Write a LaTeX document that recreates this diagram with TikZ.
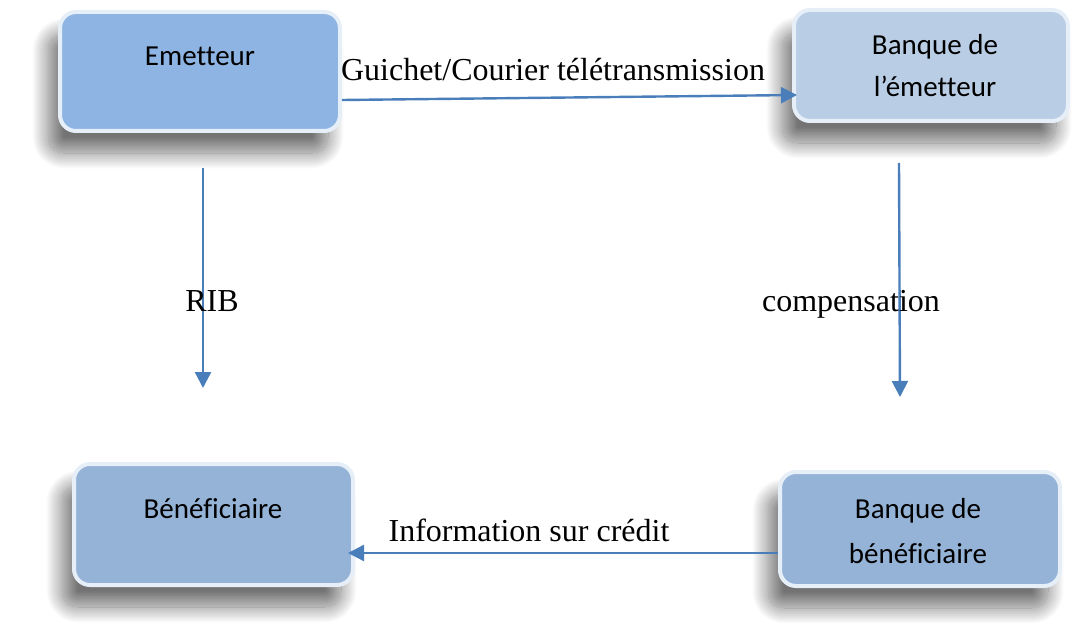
\documentclass[tikz,border=0pt]{standalone}
\usepackage{fontspec}
\setmainfont{Liberation Serif}
\newfontfamily\boxfont[Ligatures=NoCommon]{Carlito}
\usetikzlibrary{arrows.meta,shadows.blur}
\definecolor{fillA}{HTML}{8EB4E3}
\definecolor{fillB}{HTML}{B9CDE5}
\definecolor{fillC}{HTML}{95B3D7}
\definecolor{glow}{HTML}{E6EEF8}
\definecolor{arr}{HTML}{4A7EBB}
\tikzset{
  boxnode/.style={draw=glow, line width=4pt, rounded corners=16pt, inner sep=0pt,
    blur shadow={shadow xshift=-12pt, shadow yshift=-22pt, shadow blur radius=16pt,
      shadow blur steps=24, shadow opacity=55}},
  boxtext/.style={font=\boxfont\fontsize{29}{34}\selectfont, anchor=base, inner sep=0pt},
  lbl/.style={font=\fontsize{32}{38}\selectfont, anchor=base, inner sep=0pt},
  conn/.style={draw=arr, line width=2.4pt, -{Triangle[length=16pt,width=16pt]}}
}
\begin{document}
\begin{tikzpicture}[x=1pt,y=-1pt]
\useasboundingbox (0,0) rectangle (1072,623);
\node[boxnode, fill=fillA, minimum width=280pt, minimum height=119pt] (e) at (200,71.5) {};
\node[boxnode, fill=fillB, minimum width=274pt, minimum height=111pt] (be) at (931,65.5) {};
\node[boxnode, fill=fillC, minimum width=279pt, minimum height=121pt] (b) at (213.5,524.5) {};
\node[boxnode, fill=fillC, minimum width=280pt, minimum height=114pt] (bb) at (920,529) {};

\node[boxtext] (et) at (200,66) {Emetteur};
\node[boxtext] (bet1) at (935,55) {Banque de};
\node[boxtext] (bet2) at (935,97) {l’émetteur};
\node[boxtext] (bt) at (213,518) {Bénéficiaire};
\node[boxtext] (bbt1) at (918,518) {Banque de};
\node[boxtext] (bbt2) at (918,563) {bénéficiaire};

\draw[conn] ([yshift=-28.5pt]e.east) -- ([xshift=5pt,yshift=-29.5pt]be.west);
\draw[conn] ([xshift=3pt,yshift=-35pt]e.south) -- ([xshift=-10.5pt,yshift=74pt]b.north);
\draw[conn] ([xshift=-32pt,yshift=-40pt]be.south) -- ([xshift=-20pt,yshift=73pt]bb.north);
\draw[conn] ([yshift=-24pt]bb.west) -- ([xshift=-7pt,yshift=-28.5pt]b.east);

\node[lbl] (l1) at (553,81) {Guichet/Courier télétransmission};
\node[lbl] (l2) at (212,311) {RIB};
\node[lbl] (l3) at (851,311) {compensation};
\node[lbl] (l4) at (529,541) {Information sur crédit};
\end{tikzpicture}
\end{document}
